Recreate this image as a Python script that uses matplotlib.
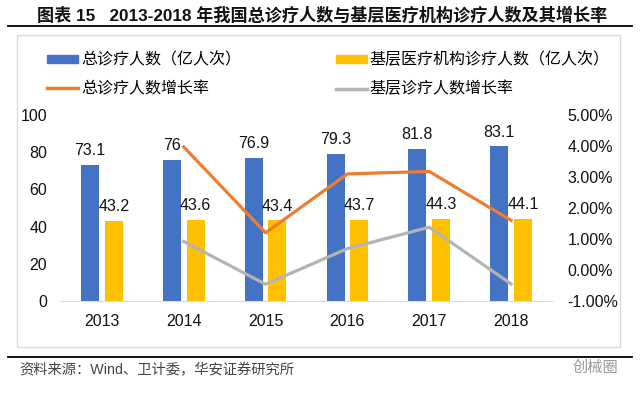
import numpy as np
import matplotlib
matplotlib.use("Agg")
import matplotlib.pyplot as plt
from matplotlib.patches import Patch, Rectangle
from matplotlib.lines import Line2D

plt.rcParams['font.family'] = ['Liberation Sans', 'Noto Sans CJK SC', 'DejaVu Sans']

years = ['2013', '2014', '2015', '2016', '2017', '2018']
total_visits = [73.1, 76, 76.9, 79.3, 81.8, 83.1]
base_visits = [43.2, 43.6, 43.4, 43.7, 44.3, 44.1]
total_growth = [np.nan, 3.97, 1.20, 3.10, 3.18, 1.60]
base_growth = [np.nan, 0.92, -0.46, 0.69, 1.38, -0.45]
left_ticks = [0, 20, 40, 60, 80, 100]
right_ticks = [-1, 0, 1, 2, 3, 4, 5]

labels = ['总诊疗人数（亿人次）', '基层医疗机构诊疗人数（亿人次）', '总诊疗人数增长率', '基层诊疗人数增长率']
title = '图表 15   2013-2018 年我国总诊疗人数与基层医疗机构诊疗人数及其增长率'
source = '资料来源：Wind、卫计委，华安证券研究所'

C_BLUE = '#4472C4'
C_YEL = '#FFC000'
C_ORG = '#ED7D31'
C_GRAY = '#B4B4B4'

W, H = 640, 395
fig = plt.figure(figsize=(6.4, 3.95), dpi=100)
fig.patch.set_facecolor('white')

def fx(px):
    return px / W

def fy(py):
    return 1 - py / H

# frame box and rules
fig.patches.append(Rectangle((fx(17), fy(347)), fx(620) - fx(17), fy(35) - fy(347),
                             transform=fig.transFigure, fill=False, edgecolor='#dcdcdc', lw=1))
fig.lines.append(Line2D([fx(8), fx(632)], [fy(26), fy(26)], transform=fig.transFigure, color='black', lw=1.3))
fig.lines.append(Line2D([fx(8), fx(632)], [fy(357), fy(357)], transform=fig.transFigure, color='black', lw=1.3))

fig.text(fx(37), fy(15), title, fontsize=12.3, fontweight='bold', va='center', ha='left', color='#111111')
fig.text(fx(19), fy(370), source, fontsize=10.3, va='center', ha='left', color='#444444')
fig.text(fx(573), fy(367), '创械圈', fontsize=11, va='center', ha='left', color='#999999',
         family=['Noto Sans CJK SC'])

ax = fig.add_axes([fx(61), fy(301), fx(552) - fx(61), fy(115) - fy(301)])
x = np.arange(len(years))
off, bw = 0.145, 0.22
ax.bar(x - off, total_visits, width=bw, color=C_BLUE, zorder=2)
ax.bar(x + off, base_visits, width=bw, color=C_YEL, zorder=2)
ax.set_xlim(-0.5, len(years) - 0.5)
ax.set_ylim(0, 100)
ax.set_yticks(left_ticks)
ax.set_xticks(x)
ax.set_xticklabels(years)
for s in ['top', 'left', 'right']:
    ax.spines[s].set_visible(False)
ax.spines['bottom'].set_color('#d9d9d9')
ax.tick_params(axis='both', length=0, labelsize=11.5, colors='#111111')
ax.tick_params(axis='x', pad=9)
ax.tick_params(axis='y', pad=10)
ax.set_facecolor('none')

for xi, v in zip(x, total_visits):
    ax.annotate(f'{v:g}', (xi - off, v), xytext=(0, 7), textcoords='offset points',
                ha='center', va='baseline', fontsize=11.5, color='#111111')
for xi, v in zip(x, base_visits):
    ax.annotate(f'{v:g}', (xi + off, v), xytext=(0, 7), textcoords='offset points',
                ha='center', va='baseline', fontsize=11.5, color='#111111')

ax2 = ax.twinx()
ax2.plot(x, total_growth, color=C_ORG, lw=2.3, zorder=3)
ax2.plot(x, base_growth, color=C_GRAY, lw=2.3, zorder=3)
ax2.set_ylim(-1, 5)
ax2.set_yticks(right_ticks)
ax2.set_yticklabels([f'{t:.2f}%' for t in right_ticks])
for s in ax2.spines.values():
    s.set_visible(False)
ax2.tick_params(axis='y', length=0, labelsize=11.5, pad=11, colors='#111111')

handles = [Patch(color=C_BLUE), Line2D([], [], color=C_ORG, lw=2.5),
           Patch(color=C_YEL), Line2D([], [], color=C_GRAY, lw=2.5)]
leg_labels = [labels[0], labels[2], labels[1], labels[3]]
fig.legend(handles, leg_labels, loc='upper left', bbox_to_anchor=(fx(47), fy(52)),
           ncol=2, frameon=False, fontsize=11.5, handlelength=1.95, handleheight=0.45,
           handletextpad=0.2, columnspacing=5.9, labelspacing=0.85, borderpad=0,
           borderaxespad=0)

fig.savefig('out.png', dpi=100, facecolor='white')
